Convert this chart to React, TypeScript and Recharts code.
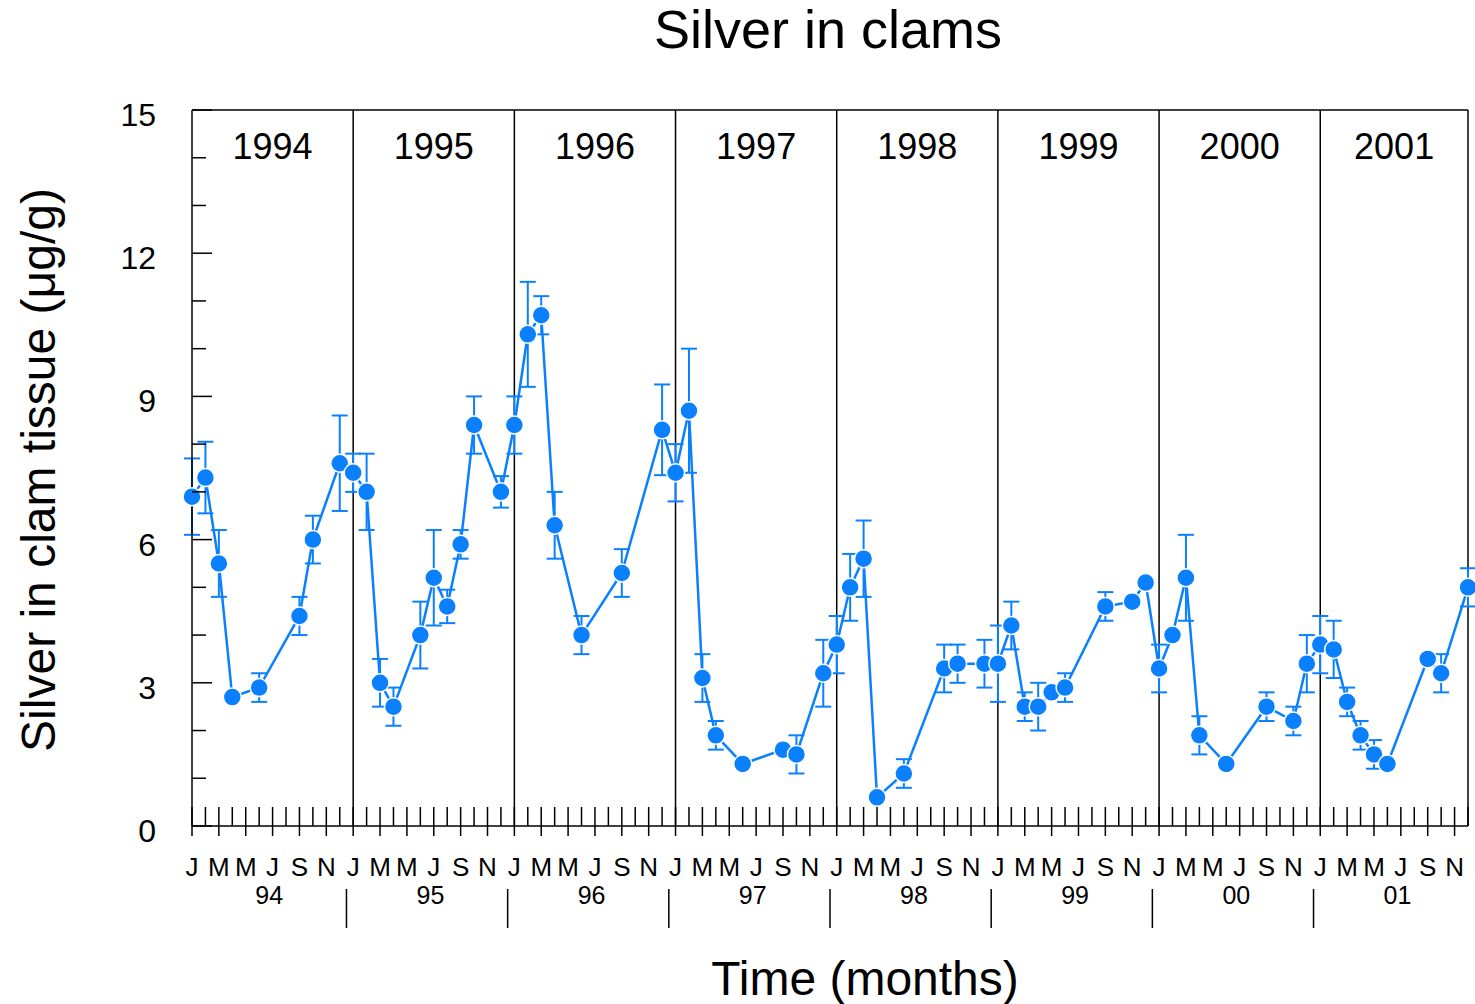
import React from "react";
import {
  ComposedChart,
  Line,
  XAxis,
  YAxis,
  ErrorBar,
  ReferenceLine,
  ReferenceArea
} from "recharts";

const FONT = "Arial, 'Liberation Sans', Helvetica, sans-serif";
const BLUE = "#0a80ff";

// month index: 0 = Jan 1994 ... 95 = Dec 2001
const months = [
  0, 1, 2, 3, 5, 8, 9, 11,
  12, 13, 14, 15, 17, 18, 19, 20, 21, 23,
  24, 25, 26, 27, 29, 32, 35,
  36, 37, 38, 39, 41, 44, 45, 47,
  48, 49, 50, 51, 53, 56, 57, 59,
  60, 61, 62, 63, 64, 65, 68, 70, 71,
  72, 73, 74, 75, 77, 80, 82, 83,
  84, 85, 86, 87, 88, 89, 92, 93, 95
];

// silver (ug/g)
const silver = [
  6.9, 7.3, 5.5, 2.7, 2.9, 4.4, 6.0, 7.6,
  7.4, 7.0, 3.0, 2.5, 4.0, 5.2, 4.6, 5.9, 8.4, 7.0,
  8.4, 10.3, 10.7, 6.3, 4.0, 5.3, 8.3,
  7.4, 8.7, 3.1, 1.9, 1.3, 1.6, 1.5, 3.2,
  3.8, 5.0, 5.6, 0.6, 1.1, 3.3, 3.4, 3.4,
  3.4, 4.2, 2.5, 2.5, 2.8, 2.9, 4.6, 4.7, 5.1,
  3.3, 4.0, 5.2, 1.9, 1.3, 2.5, 2.2, 3.4,
  3.8, 3.7, 2.6, 1.9, 1.5, 1.3, 3.5, 3.2, 5.0
];

// error (+/-)
const errors = [
  0.8, 0.75, 0.7, 0, 0.3, 0.4, 0.5, 1.0,
  0.4, 0.8, 0.5, 0.4, 0.7, 1.0, 0.35, 0.3, 0.6, 0.33,
  0.6, 1.1, 0.4, 0.7, 0.4, 0.5, 0.95,
  0.6, 1.3, 0.5, 0.3, 0, 0, 0.4, 0.7,
  0.6, 0.7, 0.8, 0, 0.3, 0.5, 0.4, 0.5,
  0.8, 0.5, 0.3, 0.5, 0, 0.3, 0.3, 0, 0,
  0.5, 0, 0.9, 0.4, 0, 0.3, 0.3, 0.6,
  0.6, 0.6, 0.3, 0.3, 0.3, 0, 0, 0.4, 0.4
];

const panelYears = ["1994", "1995", "1996", "1997", "1998", "1999", "2000", "2001"];
const shortYears = ["94", "95", "96", "97", "98", "99", "00", "01"];
const monthLetters = ["J", "", "M", "", "M", "", "J", "", "S", "", "N", ""];
const yTicks = [0, 1, 2, 3, 4, 5, 6, 7, 8, 9, 10, 11, 12, 13, 14, 15];

const data = months.map((m, i) => ({ m, v: silver[i], err: errors[i] }));

const monthTicks = Array.from({ length: 96 }, (_, i) => i);
const sepTicks = panelYears.slice(1).map((_, i) => 12 * (i + 1) - 0.5);
const yearLabelTicks = panelYears.map((_, i) => 12 * i + 5.75);
const xTicks = [...monthTicks, ...sepTicks, ...yearLabelTicks];

function XTick(props: any) {
  const { x, y, payload } = props;
  const v = payload.value;
  if (Number.isInteger(v)) {
    const long = v % 2 === 0;
    const letter = monthLetters[v % 12];
    return (
      <g>
        <line x1={x} x2={x} y1={y - 19} y2={long ? y + 10 : y} stroke="#000" strokeWidth={1.5} />
        {letter && (
          <text x={x} y={y + 50} textAnchor="middle" fontSize={26} fontFamily={FONT} fill="#000">
            {letter}
          </text>
        )}
      </g>
    );
  }
  if (v % 12 === 11.5) {
    return <line x1={x} x2={x} y1={y + 63} y2={y + 102} stroke="#000" strokeWidth={1.5} />;
  }
  return (
    <text x={x} y={y + 78} textAnchor="middle" fontSize={25} fontFamily={FONT} fill="#000">
      {shortYears[Math.floor(v / 12)]}
    </text>
  );
}

function YTick(props: any) {
  const { x, y, payload } = props;
  const v = payload.value;
  const major = v % 3 === 0;
  return (
    <g>
      <line x1={x} x2={x + (major ? 20 : 14)} y1={y} y2={y} stroke="#000" strokeWidth={1.5} />
      {major && (
        <text x={x - 36} y={y + 16} textAnchor="end" fontSize={32} fontFamily={FONT} fill="#000">
          {v}
        </text>
      )}
    </g>
  );
}

export default function App() {
  return (
    <div style={{ position: "absolute", left: 0, top: 0, width: 1475, height: 1004, background: "#fff" }}>
      <svg width={1475} height={60} style={{ position: "absolute", left: 0, top: 0 }}>
        <text x={828} y={48} textAnchor="middle" fontSize={54} fontFamily={FONT} fill="#000">
          Silver in clams
        </text>
      </svg>
      <ComposedChart
        width={1475}
        height={1004}
        data={data}
        margin={{ top: 110, right: 7, left: 0, bottom: 0 }}
      >
        <XAxis
          dataKey="m"
          type="number"
          domain={[0, 95]}
          ticks={xTicks}
          interval={0}
          tickSize={0}
          tickMargin={0}
          tickLine={false}
          tick={XTick}
          height={178}
          axisLine={{ stroke: "#000", strokeWidth: 1.5 }}
          label={(p: any) => (
            <text
              x={p.viewBox.x + p.viewBox.width / 2 + 35}
              y={p.viewBox.y + 169}
              textAnchor="middle"
              fontSize={48}
              fontFamily={FONT}
              fill="#000"
            >
              Time (months)
            </text>
          )}
        />
        <YAxis
          type="number"
          domain={[0, 15]}
          ticks={yTicks}
          interval={0}
          tickSize={0}
          tickMargin={0}
          tickLine={false}
          tick={YTick}
          width={192}
          axisLine={{ stroke: "#000", strokeWidth: 1.5 }}
          label={(p: any) => (
            <text
              x={55}
              y={p.viewBox.y + 360}
              transform={`rotate(-90, 55, ${p.viewBox.y + 360})`}
              textAnchor="middle"
              fontSize={48}
              fontFamily={FONT}
              fill="#000"
            >
              Silver in clam tissue (μg/g)
            </text>
          )}
        />
        {panelYears.map((yr, i) => (
          <ReferenceArea
            key={yr}
            x1={12 * i}
            x2={Math.min(12 * i + 12, 95)}
            fill="none"
            fillOpacity={0}
            stroke="none"
            label={{ value: yr, position: "insideTop", offset: 23, fontSize: 36, fontFamily: FONT, fill: "#000" }}
          />
        ))}
        {panelYears.slice(1).map((yr, i) => (
          <ReferenceLine key={yr} x={12 * (i + 1)} stroke="#000" strokeWidth={1.5} />
        ))}
        <ReferenceLine y={15} stroke="#000" strokeWidth={1.5} />
        <ReferenceLine x={95} stroke="#000" strokeWidth={1.5} />
        <Line
          type="linear"
          dataKey="v"
          stroke={BLUE}
          strokeWidth={2.5}
          dot={{ r: 9, fill: BLUE, stroke: "#fff", strokeWidth: 1.5 }}
          activeDot={false}
          isAnimationActive={false}
        >
          <ErrorBar dataKey="err" width={8} stroke={BLUE} strokeWidth={2} direction="y" />
        </Line>
      </ComposedChart>
    </div>
  );
}
